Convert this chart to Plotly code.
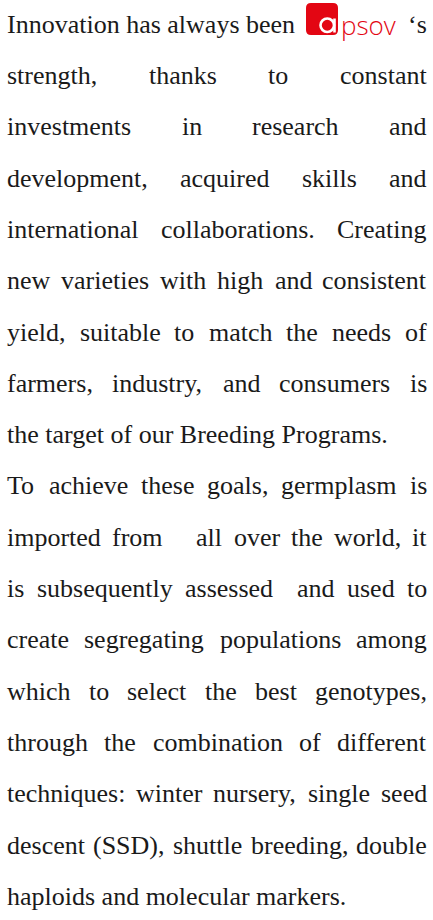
import plotly.graph_objects as go

# ---------------- content ----------------
OPENING = "Innovation has always been"
BRAND_REST = "psov"
SUFFIX = "\u2018s"

# lines after the first one; True = justified, False = last line of paragraph
LINES = [
    "strength, thanks to constant",
    "investments in research and",
    "development, acquired skills and",
    "international collaborations. Creating",
    "new varieties with high and consistent",
    "yield, suitable to match the needs of",
    "farmers, industry, and consumers is",
    "the target of our Breeding Programs.",
    "To achieve these goals, germplasm is",
    "imported from   all over the world, it",
    "is subsequently assessed  and used to",
    "create segregating populations among",
    "which to select the best genotypes,",
    "through the combination of different",
    "techniques: winter nursery, single seed",
    "descent (SSD), shuttle breeding, double",
    "haploids and molecular markers.",
]
JUSTIFIED = [True, True, True, True, True, True, True, False,
             True, True, True, True, True, True, True, True, False]

# ---------------- styling ----------------
W, H = 433, 920
FONT = "Liberation Serif"
FS = 26
TEXT_COLOR = "#1a1a1a"
RED = "#e30613"
LEFT, RIGHT = 7, 427
FIRST_BASELINE = 32.7
LINE_STEP = 51.3
BASE_TO_MID = 8.5

# Times New Roman / Liberation Serif advance widths (1/1000 em)
TW = {
    " ": 250, ",": 250, ".": 250, ":": 278, "(": 333, ")": 333, "\u2018": 333,
    "B": 667, "C": 667, "D": 722, "I": 333, "P": 556, "S": 556, "T": 611,
    "a": 444, "b": 500, "c": 444, "d": 500, "e": 444, "f": 333, "g": 500,
    "h": 500, "i": 278, "j": 278, "k": 500, "l": 278, "m": 778, "n": 500,
    "o": 500, "p": 500, "q": 500, "r": 333, "s": 389, "t": 278, "u": 500,
    "v": 500, "w": 722, "x": 500, "y": 500, "z": 444,
}


def width(s):
    return sum(TW.get(ch, 500) for ch in s) * FS / 1000.0


annotations = []


def word(text, x, baseline, anchor="left", color=TEXT_COLOR, font=FONT, size=FS, weight=None):
    f = dict(family=font, size=size, color=color)
    if weight:
        f["weight"] = weight
    annotations.append(dict(
        x=x, y=baseline - BASE_TO_MID, xref="x", yref="y", text=text,
        showarrow=False, xanchor=anchor, yanchor="middle", font=f,
        borderpad=0, borderwidth=0,
    ))


def place_line(line, baseline, justify):
    if not justify:
        word(line, LEFT, baseline)
        return
    words, spaces = [], []
    cur, sp = "", 0
    for ch in line:
        if ch == " ":
            if cur:
                words.append(cur)
                cur = ""
            sp += 1
        else:
            if sp and words:
                spaces.append(sp)
            sp = 0
            cur += ch
    if cur:
        words.append(cur)
    total_words = sum(width(w) for w in words)
    n_space = sum(spaces)
    per_space = (RIGHT - LEFT - total_words) / n_space if n_space else 0
    x = LEFT
    for i, w in enumerate(words):
        if i == len(words) - 1:
            word(w, RIGHT, baseline, anchor="right")
        else:
            word(w, x, baseline)
            x += width(w) + spaces[i] * per_space


# first line with brand logo
b0 = FIRST_BASELINE
word(OPENING, LEFT, b0)
word(SUFFIX, RIGHT, b0, anchor="right")
word(BRAND_REST, 340.5, b0 + 1, color=RED, font="Open Sans", size=26, weight=300)

for i, (line, j) in enumerate(zip(LINES, JUSTIFIED)):
    place_line(line, FIRST_BASELINE + LINE_STEP * (i + 1), j)

# logo box (rounded square) with stylised white "a"
x0, x1, y0, y1, r = 306, 338, 3, 35, 5
box_path = (f"M{x0+r},{y0} L{x1-r},{y0} Q{x1},{y0} {x1},{y0+r} L{x1},{y1-r} "
            f"Q{x1},{y1} {x1-r},{y1} L{x0+r},{y1} Q{x0},{y1} {x0},{y1-r} "
            f"L{x0},{y0+r} Q{x0},{y0} {x0+r},{y0} Z")
shapes = [
    dict(type="path", path=box_path, xref="x", yref="y", fillcolor=RED,
         line=dict(width=0), layer="below"),
    dict(type="circle", xref="x", yref="y", x0=320.5, x1=334, y0=18.5, y1=32,
         line=dict(color="white", width=2.6), fillcolor="rgba(0,0,0,0)"),
    dict(type="line", xref="x", yref="y", x0=334.5, x1=334.5, y0=18.5, y1=32.5,
         line=dict(color="white", width=2.6)),
]

fig = go.Figure()
fig.update_layout(
    width=W, height=H, margin=dict(l=0, r=0, t=0, b=0),
    paper_bgcolor="white", plot_bgcolor="white",
    xaxis=dict(range=[0, W], visible=False, fixedrange=True),
    yaxis=dict(range=[H, 0], visible=False, fixedrange=True),
    annotations=annotations, shapes=shapes, showlegend=False,
)
fig.write_html(
    "out.html",
    config={"displayModeBar": False},
    post_script="document.body.style.margin='0';document.body.style.overflow='hidden';",
)
